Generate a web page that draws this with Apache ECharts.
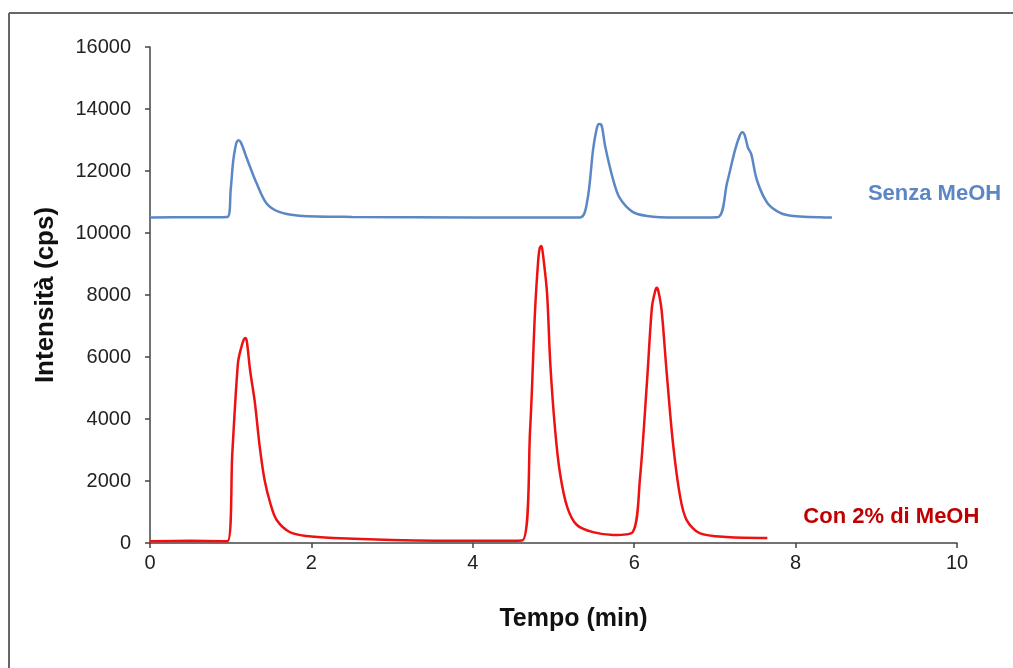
<!DOCTYPE html>
<html>
<head>
<meta charset="utf-8">
<script src="https://cdn.jsdelivr.net/npm/echarts@6/dist/echarts.min.js"></script>
<style>
  html,body{margin:0;padding:0;background:#fff;}
  #main{width:1013px;height:668px;}
</style>
</head>
<body>
<div id="main"></div>
<script>
// tempo (min) e intensita (cps)
var senzaTempo=[0,0.5,0.96,1.0,1.03,1.06,1.08,1.10,1.13,1.18,1.24,1.32,1.44,1.6,1.85,2.5,4.0,5.33,5.42,5.49,5.53,5.56,5.59,5.61,5.64,5.74,5.82,5.98,6.16,6.5,7.03,7.15,7.25,7.31,7.34,7.37,7.41,7.45,7.52,7.65,7.81,7.97,8.45];
var senzaInt=[10500,10510,10520,11400,12300,12800,12960,12990,12900,12550,12130,11610,10970,10680,10560,10520,10500,10500,11060,12680,13300,13520,13500,13300,12800,11710,11130,10680,10550,10500,10510,11610,12680,13150,13250,13150,12750,12550,11710,10970,10650,10550,10500];
var conTempo=[0,0.5,0.96,1.02,1.09,1.13,1.16,1.18,1.20,1.24,1.30,1.36,1.42,1.49,1.57,1.73,1.94,2.27,3.0,4.0,4.61,4.71,4.77,4.81,4.83,4.85,4.87,4.92,4.96,5.02,5.08,5.17,5.29,5.49,5.74,5.98,6.07,6.16,6.22,6.26,6.28,6.30,6.34,6.40,6.48,6.57,6.65,6.81,7.15,7.65];
var conInt=[60,70,60,2900,5810,6300,6550,6610,6500,5580,4520,3100,2030,1290,740,355,225,160,100,70,80,3650,7420,9100,9520,9580,9300,8060,5800,3650,2260,1160,580,350,260,350,2030,5260,7610,8130,8230,8120,7500,5580,3230,1480,740,320,190,160];

function pairs(t,v){
  var out=[];
  for(var i=0;i<t.length;i++){ out.push([t[i],v[i]]); }
  return out;
}

var chart=echarts.init(document.getElementById('main'));
var font='"Liberation Sans", Arial, sans-serif';
var option={
  animation:false,
  backgroundColor:'#fff',
  grid:{left:150,right:56,top:47,bottom:125},
  graphic:[
    {type:'line',shape:{x1:9,y1:13,x2:1013,y2:13},style:{stroke:'#666',lineWidth:2}},
    {type:'line',shape:{x1:9,y1:13,x2:9,y2:668},style:{stroke:'#666',lineWidth:2}}
  ],
  xAxis:{
    type:'value',min:0,max:10,interval:2,
    name:'Tempo (min)',nameLocation:'middle',nameGap:64,
    nameTextStyle:{fontFamily:font,fontSize:25,fontWeight:'bold',color:'#111',padding:[0,0,0,40]},
    axisLine:{lineStyle:{color:'#444',width:1.5}},
    axisTick:{show:true,inside:false,length:5,lineStyle:{color:'#444',width:1.5}},
    axisLabel:{fontFamily:font,fontSize:20,color:'#222',margin:10},
    splitLine:{show:false}
  },
  yAxis:{
    type:'value',min:0,max:16000,interval:2000,
    name:'Intensità (cps)',nameLocation:'middle',nameGap:91,nameRotate:90,
    nameTextStyle:{fontFamily:font,fontSize:26,fontWeight:'bold',color:'#111'},
    axisLine:{show:true,lineStyle:{color:'#444',width:1.5}},
    axisTick:{show:true,inside:false,length:5,lineStyle:{color:'#444',width:1.5}},
    axisLabel:{fontFamily:font,fontSize:20,color:'#222',margin:19,formatter:function(v){return String(v);}},
    splitLine:{show:false}
  },
  series:[
    {
      name:'Senza MeOH',type:'line',showSymbol:false,smooth:0.3,
      lineStyle:{color:'#5b87c5',width:2.5},itemStyle:{color:'#5b87c5'},
      endLabel:{show:true,formatter:'{a}',fontFamily:font,fontSize:22,fontWeight:'bold',color:'#5b87c5',offset:[28,-24]},
      data:pairs(senzaTempo,senzaInt)
    },
    {
      name:'Con 2% di MeOH',type:'line',showSymbol:false,smooth:0.3,
      lineStyle:{color:'#ee1111',width:2.5},itemStyle:{color:'#ee1111'},
      endLabel:{show:true,formatter:'{a}',fontFamily:font,fontSize:22,fontWeight:'bold',color:'#c00000',offset:[28,-21]},
      data:pairs(conTempo,conInt)
    }
  ]
};
chart.setOption(option);
</script>
</body>
</html>
